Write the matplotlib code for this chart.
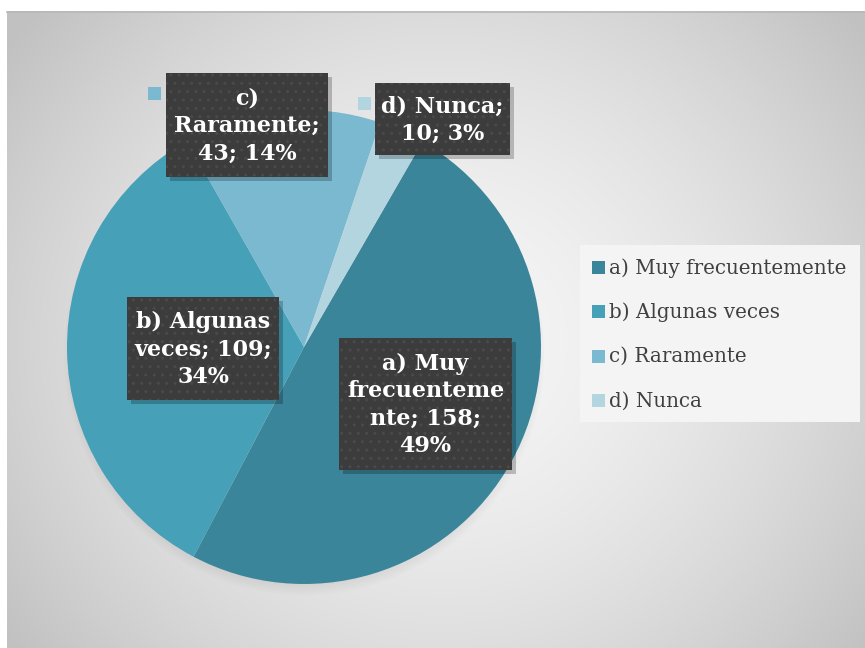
import numpy as np
import matplotlib
matplotlib.use('Agg')
import matplotlib.pyplot as plt
from matplotlib.patches import Rectangle

# datos
categorias = ['a) Muy frecuentemente', 'b) Algunas veces', 'c) Raramente', 'd) Nunca']
valores = [158, 109, 43, 10]
etiquetas = ['a) Muy\nfrecuenteme\nnte; 158;\n49%',
             'b) Algunas\nveces; 109;\n34%',
             'c)\nRaramente;\n43; 14%',
             'd) Nunca;\n10; 3%']
colores = ['#3a8599', '#45a0b8', '#7ab9cf', '#b3d5e0']

W, H = 865, 648
fig = plt.figure(figsize=(W / 100, H / 100), dpi=100)
fig.patch.set_facecolor('white')

def fx(x):
    return x / W

def fy(y):
    return 1 - y / H

# fondo con degradado radial
bg = fig.add_axes([fx(7), 0, 1 - fx(7), fy(11)])
yy, xx = np.mgrid[0:637, 0:858]
d = np.sqrt(((xx - 435) / 560.0) ** 2 + ((yy - 330) / 520.0) ** 2)
g = np.clip(0.965 - 0.22 * d ** 1.6, 0.76, 1)
bg.imshow(np.dstack([g, g, g]), aspect='auto', extent=[0, 1, 0, 1])
bg.set_axis_off()
fig.add_artist(plt.Line2D([fx(7), 1], [fy(11.5), fy(11.5)], color='#b8b8b8', lw=1.2))

# sombra suave del pastel
sh = fig.add_axes([fx(304 - 240), fy(347 + 240 + 8), 480 / W, 480 / H])
for k in range(5):
    sh.add_patch(plt.Circle((0, 0), 1.0 - k * 0.01, color='#707070', alpha=0.025, lw=0))
sh.set_xlim(-1, 1)
sh.set_ylim(-1, 1)
sh.set_axis_off()

# pastel
ax = fig.add_axes([fx(304 - 237), fy(347 + 237), 474 / W, 474 / H])
ax.pie(valores, colors=colores, startangle=60, counterclock=False,
       wedgeprops=dict(linewidth=0))
ax.set_xlim(-1, 1)
ax.set_ylim(-1, 1)
ax.set_aspect('equal')

# etiquetas de datos (cajas oscuras)
cajas = [(339, 338, 512, 470), (127, 297, 279, 400), (166, 73, 328, 177), (375, 83, 510, 155)]
for (x0, y0, x1, y1), txt in zip(cajas, etiquetas):
    fig.add_artist(Rectangle((fx(x0 + 4), fy(y1 + 4)), fx(x1 - x0), (y1 - y0) / H,
                             transform=fig.transFigure, color='#000000', alpha=0.22, lw=0))
    fig.add_artist(Rectangle((fx(x0), fy(y1)), fx(x1 - x0), (y1 - y0) / H,
                             transform=fig.transFigure, facecolor='#3c3c3c',
                             edgecolor='#4a4a4a', hatch='..', lw=0))
    fig.text(fx((x0 + x1) / 2), fy((y0 + y1) / 2 + 1), txt, ha='center', va='center',
             multialignment='center', color='white', fontsize=16, fontweight='bold',
             family='DejaVu Serif', linespacing=1.33)

# pequeños marcadores junto a las etiquetas c y d
fig.add_artist(Rectangle((fx(148), fy(100)), fx(13), 13 / H, transform=fig.transFigure,
                         color=colores[2], lw=0))
fig.add_artist(Rectangle((fx(358), fy(110)), fx(13), 13 / H, transform=fig.transFigure,
                         color=colores[3], lw=0))

# leyenda
fig.add_artist(Rectangle((fx(580), fy(422)), fx(280), 177 / H, transform=fig.transFigure,
                         color='#f4f4f4', lw=0))
for i, (cat, c) in enumerate(zip(categorias, colores)):
    yc = 268 + i * 44.3
    fig.add_artist(Rectangle((fx(592), fy(yc + 6)), fx(13), 13 / H,
                             transform=fig.transFigure, color=c, lw=0))
    fig.text(fx(609), fy(yc), cat, ha='left', va='center', color='#404040',
             fontsize=14.3, family='DejaVu Serif')

fig.savefig('out.png', dpi=100)
